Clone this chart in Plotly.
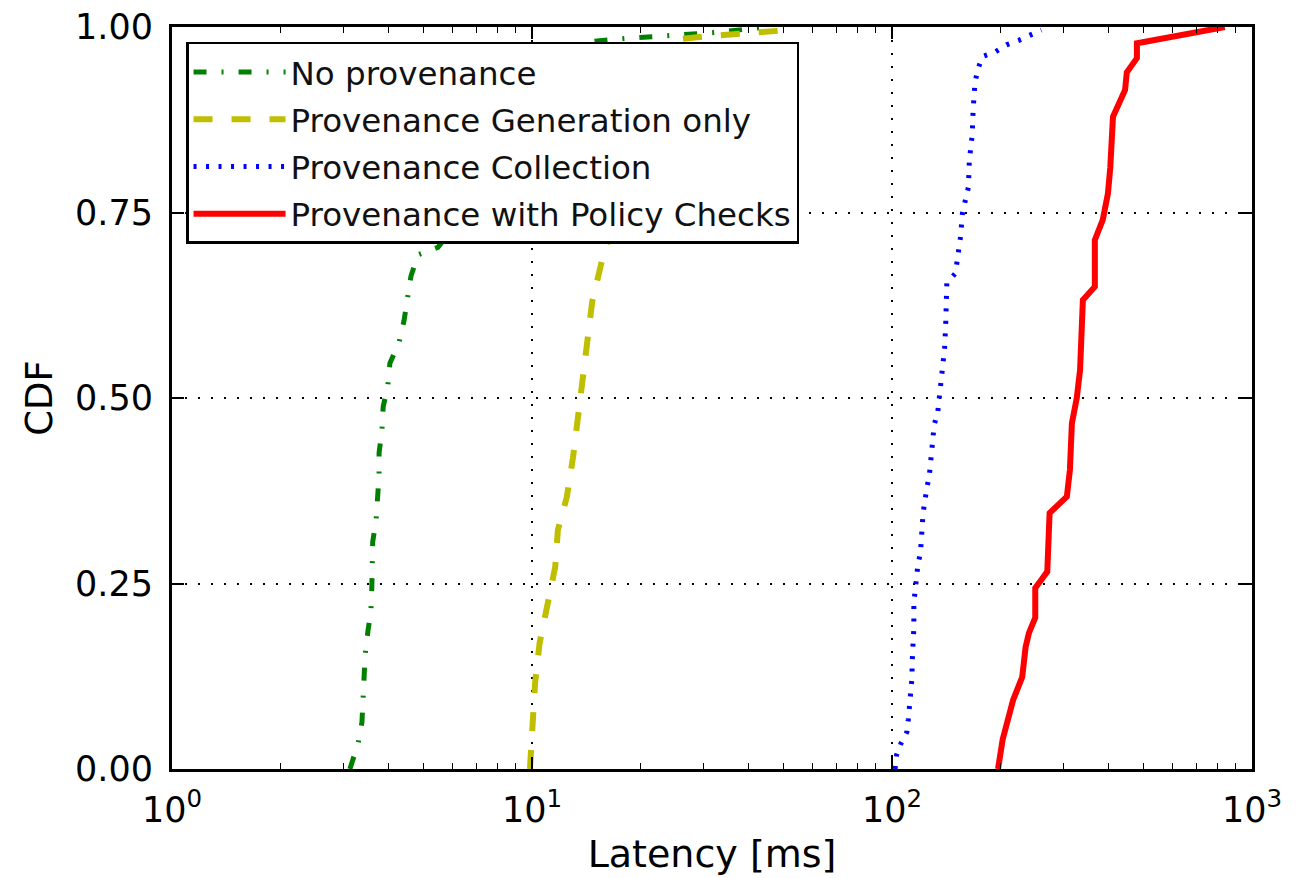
import plotly.graph_objects as go

# ---- data ----
names = ["No provenance", "Provenance Generation only",
         "Provenance Collection", "Provenance with Policy Checks"]

green_x = [3.12, 3.29, 3.37, 3.39, 3.41, 3.44, 3.50, 3.57, 3.59, 3.61, 3.61, 3.69,
           3.73, 3.76, 3.76, 3.83, 3.86, 3.98, 4.03, 4.27, 4.41, 4.52, 4.61, 4.82,
           5.48, 6.5, 8.5, 11.0, 14.2, 18.7, 24.6, 33.2, 44.4]
green_y = [0.0, 0.035, 0.063, 0.093, 0.124, 0.154, 0.185, 0.214, 0.245, 0.275, 0.306,
           0.336, 0.367, 0.396, 0.426, 0.457, 0.488, 0.518, 0.547, 0.574, 0.604, 0.633,
           0.664, 0.693, 0.703, 0.75, 0.85, 0.95, 0.98, 0.985, 0.989, 0.993, 1.0]

yellow_x = [9.87, 10.0, 10.2, 10.5, 11.0, 11.6, 11.8, 12.5, 13.0, 13.4, 13.8, 14.2,
            14.7, 15.5, 15.9, 17.5, 19.5, 22.0, 24.0, 29.9, 38.2, 48.8, 52.0]
yellow_y = [0.0, 0.049, 0.116, 0.17, 0.218, 0.272, 0.322, 0.367, 0.42, 0.474, 0.528,
            0.578, 0.63, 0.677, 0.70, 0.75, 0.85, 0.95, 0.982, 0.987, 0.99, 0.995, 1.0]

blue_x = [102, 103, 106, 110, 111, 112, 113, 113.5, 114, 115, 115, 116, 118, 120, 121,
          122, 125, 127, 129, 131, 134, 136, 138, 140, 141, 141, 142, 150, 155, 157,
          163, 164, 167, 168, 170, 173, 178, 193, 208, 225, 242, 260]
blue_y = [0.0, 0.019, 0.035, 0.05, 0.067, 0.084, 0.102, 0.12, 0.154, 0.19, 0.224, 0.241,
          0.275, 0.292, 0.326, 0.345, 0.379, 0.396, 0.43, 0.464, 0.481, 0.51, 0.53,
          0.567, 0.60, 0.636, 0.655, 0.668, 0.717, 0.75, 0.784, 0.82, 0.854, 0.888,
          0.925, 0.942, 0.96, 0.966, 0.976, 0.982, 0.989, 0.996]

red_x = [197, 203, 217, 230, 235, 240, 250, 250, 260, 270, 274, 284, 306, 312, 316, 326,
         333, 339, 366, 366, 385, 398, 404, 411, 444, 449, 479, 479, 840]
red_y = [0.0, 0.04, 0.093, 0.124, 0.164, 0.183, 0.204, 0.244, 0.255, 0.266, 0.345,
         0.352, 0.367, 0.403, 0.466, 0.5, 0.538, 0.632, 0.65, 0.713, 0.74, 0.776, 0.811,
         0.879, 0.915, 0.939, 0.958, 0.978, 1.0]

x_tickvals = [1, 10, 100, 1000]
x_ticktext = ["10<sup>0</sup>", "10<sup>1</sup>", "10<sup>2</sup>", "10<sup>3</sup>"]
y_tickvals = [0.0, 0.25, 0.5, 0.75, 1.0]
y_ticktext = ["0.00", "0.25", "0.50", "0.75", "1.00"]

FONT = "DejaVu Sans"

fig = go.Figure()
styles = [
    (green_x, green_y, "#008000", 5, "13px,15px,2px,15px"),
    (yellow_x, yellow_y, "#bfbf00", 6, "19px,19px"),
    (blue_x, blue_y, "#0000ff", 5, "3px,9.5px"),
    (red_x, red_y, "#ff0000", 6, "solid"),
]
for i, (name, (xs, ys, col, w, dash)) in enumerate(zip(names, styles)):
    fig.add_trace(go.Scatter(x=xs, y=ys, mode="lines", name=name,
                             legendgroup=f"g{i}",
                             line=dict(color=col, width=w, dash=dash)))

minor_vals = [m * 10 ** e for e in range(3) for m in range(2, 10)]

# the page body adds an 8px offset, margins compensate for it
fig.update_layout(
    width=1307, height=878,
    margin=dict(l=164, r=63, t=19, b=117, autoexpand=False),
    paper_bgcolor="white", plot_bgcolor="white",
    font=dict(family=FONT, color="black", size=34),
    showlegend=True,
    legend=dict(x=0.013, y=0.98, xanchor="left", yanchor="top",
                bgcolor="white", bordercolor="black", borderwidth=2.5,
                font=dict(family=FONT, size=32.5, color="#111111"),
                itemwidth=92, tracegroupgap=2,
                entrywidth=541, entrywidthmode="pixels"),
)
fig.update_xaxes(
    type="log", range=[0, 3], automargin=False,
    tickvals=x_tickvals, ticktext=x_ticktext, ticklabeloverflow="allow",
    ticks="inside", ticklen=12, tickwidth=1.5, tickcolor="black",
    minor=dict(tickvals=minor_vals, ticks="inside", ticklen=6, tickwidth=1.2,
               tickcolor="black", showgrid=False),
    showline=True, linewidth=3, linecolor="black", mirror="allticks",
    showgrid=True, gridcolor="black", gridwidth=1.5, griddash="2px,11px",
    tickfont=dict(size=35), ticklabelstandoff=8,
    title=dict(text="Latency [ms]", font=dict(size=38), standoff=12),
    zeroline=False,
)
fig.update_yaxes(
    range=[0, 1], automargin=False,
    tickvals=y_tickvals, ticktext=y_ticktext, ticklabeloverflow="allow",
    ticks="inside", ticklen=12, tickwidth=1.5, tickcolor="black",
    showline=True, linewidth=3, linecolor="black", mirror="allticks",
    showgrid=True, gridcolor="black", gridwidth=1.5, griddash="2px,11px",
    tickfont=dict(size=35), ticklabelstandoff=9,
    title=dict(text="CDF", font=dict(size=37), standoff=12),
    zeroline=False,
)

fig.write_html("out.html")
